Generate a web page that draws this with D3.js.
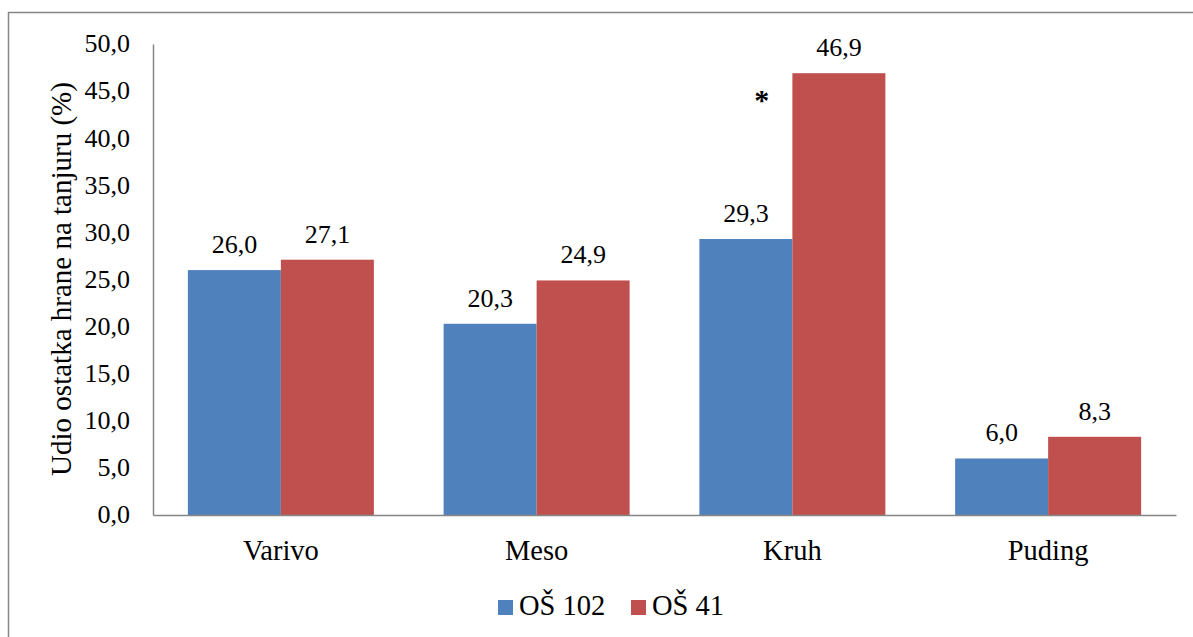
<!DOCTYPE html>
<html><head><meta charset="utf-8">
<script src="https://cdn.jsdelivr.net/npm/d3@7"></script>
<style>body{margin:0;background:#fff}svg{display:block}</style>
</head><body>
<script>
const categories = ["Varivo","Meso","Kruh","Puding"];
const seriesNames = ["OŠ 102","OŠ 41"];
const os102 = [26.0,20.3,29.3,6.0];
const os41 = [27.1,24.9,46.9,8.3];
const yTicks = [0,5,10,15,20,25,30,35,40,45,50];
const colors = ["#4F81BD","#C0504D"];
const annotations = [{cat:"Kruh", value:43, text:"*"}];

const FONT = "'Liberation Serif','Times New Roman',serif";
const W=1193,H=637;
const svg=d3.select("body").append("svg").attr("width",W).attr("height",H)
  .attr("font-family",FONT).style("font-family",FONT);
svg.append("rect").attr("x",8.5).attr("y",12.5).attr("width",1250).attr("height",700)
  .attr("fill","#fff").attr("stroke","#868686").attr("stroke-width",1.5);

const m={l:153,r:1176,t:44,b:515};
const x0=d3.scaleBand().domain(categories).range([m.l,m.r]).padding(0);
const band=x0.bandwidth();
const x1=d3.scaleBand().domain(seriesNames).range([0,band]).paddingInner(0).paddingOuter(0.375);
const y=d3.scaleLinear().domain([0,50]).range([m.b,m.t]);
const fmt=v=>d3.format(".1f")(v).replace(".",",");

const data=categories.map((c,i)=>({cat:c,vals:[os102[i],os41[i]]}));
const g=svg.append("g");
data.forEach(d=>{
  d.vals.forEach((v,j)=>{
    const bx=x0(d.cat)+x1(seriesNames[j]);
    g.append("rect").attr("x",bx).attr("y",y(v)).attr("width",x1.bandwidth()).attr("height",y(0)-y(v)).attr("fill",colors[j]);
    g.append("text").attr("x",bx+x1.bandwidth()/2).attr("y",y(v)-17).attr("text-anchor","middle")
      .style("font-family",FONT).attr("font-size",26).text(fmt(v));
  });
});

// axes
const ya=d3.axisLeft(y).tickValues(yTicks).tickSize(0).tickPadding(23).tickFormat(fmt);
const yg=svg.append("g").attr("transform",`translate(${m.l},0)`).call(ya);
yg.attr("font-family",FONT);
yg.select(".domain").attr("stroke","#868686").attr("stroke-width",1.5);
yg.selectAll("text").attr("font-size",26).attr("dy","0.3em").style("font-family",FONT).attr("fill","#000");
const xa=d3.axisBottom(x0).tickSize(0);
const xg=svg.append("g").attr("transform",`translate(0,${m.b})`).call(xa);
xg.attr("font-family",FONT);
xg.select(".domain").attr("stroke","#868686").attr("stroke-width",1.5);
xg.selectAll("text").attr("font-size",28.5).attr("y",45).attr("dy",0).style("font-family",FONT).attr("fill","#000");

svg.append("text").attr("transform","translate(71,279) rotate(-90)").attr("text-anchor","middle")
  .style("font-family",FONT).attr("font-size",29).text("Udio ostatka hrane na tanjuru (%)");

annotations.forEach(a=>{
  svg.append("text").attr("x",x0(a.cat)+x1(seriesNames[0])+x1.bandwidth()*0.67).attr("y",y(a.value))
    .attr("text-anchor","middle").style("font-family",FONT).attr("font-size",30).attr("font-weight","bold").text(a.text);
});

// legend
const lg=svg.append("g");
const lx=[498,631];
seriesNames.forEach((s,i)=>{
  lg.append("rect").attr("x",lx[i]).attr("y",600).attr("width",15).attr("height",15).attr("fill",colors[i]);
  lg.append("text").attr("x",lx[i]+21).attr("y",615).style("font-family",FONT).attr("font-size",28.5).text(s);
});
</script>
</body></html>
